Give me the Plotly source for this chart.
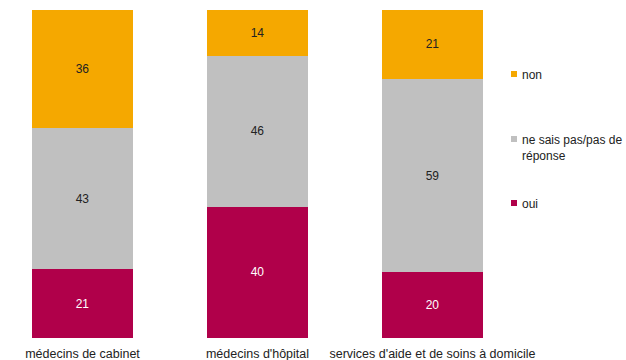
import plotly.graph_objects as go

categories = ["médecins de cabinet", "médecins d'hôpital", "services d'aide et de soins à domicile"]
oui = [21, 40, 20]
ne_sais = [43, 46, 59]
non = [36, 14, 21]
series_names = ["oui", "ne sais pas/pas de réponse", "non"]
legend_labels = ["non", "ne sais pas/pas de<br>réponse", "oui"]

colors = {"oui": "#b0004a", "ne": "#c0c0c0", "non": "#f5a800"}
FONT = "Liberation Sans, Arial, sans-serif"

x = list(range(len(categories)))
fig = go.Figure()
for name, vals, col, tcol in [
    (series_names[0], oui, colors["oui"], "white"),
    (series_names[1], ne_sais, colors["ne"], "#222222"),
    (series_names[2], non, colors["non"], "#222222"),
]:
    fig.add_trace(go.Bar(
        x=x, y=vals, name=name, width=0.572,
        marker=dict(color=col, line=dict(width=0)),
        text=vals, texttemplate="%{text}", textposition="inside",
        insidetextanchor="middle",
        textfont=dict(color=tcol, size=12, family=FONT),
        showlegend=False, hoverinfo="skip",
    ))

W, H = 626, 360
ml, mr, mt, mb = 5, 126, 10, 22
pw, ph = W - ml - mr, H - mt - mb

def px_to_paper_x(px):
    return (px - ml) / pw

def px_to_paper_y(py):
    return (H - mb - py) / ph

# custom legend
legend_items = [
    (legend_labels[0], colors["non"], 74),
    (legend_labels[1], colors["ne"], 139),
    (legend_labels[2], colors["oui"], 203),
]
for label, col, ypx in legend_items:
    fig.add_shape(type="rect", xref="paper", yref="paper",
                  x0=px_to_paper_x(511), x1=px_to_paper_x(517),
                  y0=px_to_paper_y(ypx + 3), y1=px_to_paper_y(ypx - 3),
                  fillcolor=col, line=dict(width=0))
    fig.add_annotation(xref="paper", yref="paper", x=px_to_paper_x(520),
                       y=px_to_paper_y(ypx - 8), xanchor="left", yanchor="top",
                       text=label, showarrow=False, align="left",
                       font=dict(size=12, color="#222222", family=FONT))

fig.update_layout(
    barmode="stack", width=W, height=H,
    margin=dict(l=ml, r=mr, t=mt, b=mb, autoexpand=False),
    plot_bgcolor="white", paper_bgcolor="white",
    xaxis=dict(range=[-0.443, 2.386], tickvals=x, ticktext=categories,
               showgrid=False, zeroline=False, showline=False, automargin=False,
               ticks="outside", ticklen=4, tickcolor="rgba(0,0,0,0)",
               tickfont=dict(size=12.5, color="#222222", family=FONT), fixedrange=True),
    yaxis=dict(range=[0, 100], visible=False, fixedrange=True),
    font=dict(family=FONT),
)
fig.write_html("out.html", config={"displayModeBar": False},
               post_script="document.body.style.margin='0';document.body.style.overflow='hidden';")
